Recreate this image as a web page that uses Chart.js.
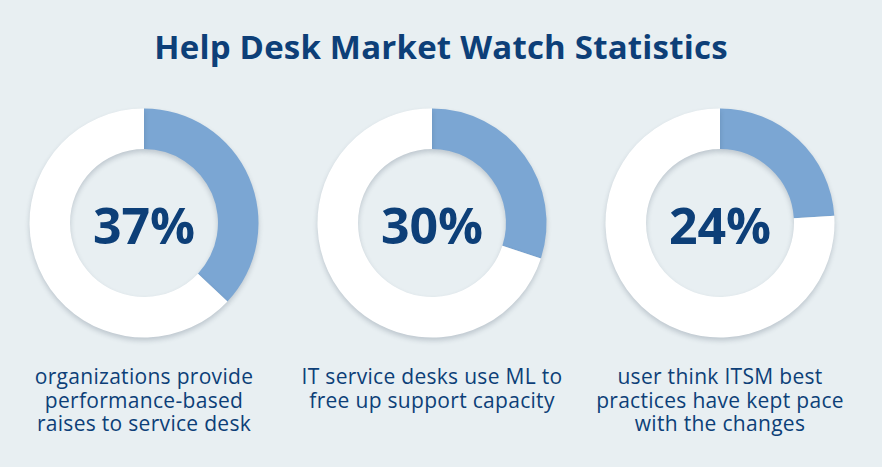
<!DOCTYPE html>
<html>
<head>
<meta charset="utf-8">
<script src="https://cdn.jsdelivr.net/npm/chart.js@4.4.0/dist/chart.umd.min.js"></script>
<style>
  html, body { margin: 0; padding: 0; }
  body {
    width: 882px; height: 467px; background: #e8eff2; position: relative; overflow: hidden;
    font-family: "Open Sans", sans-serif; color: #0d3f78;
  }
  #title {
    position: absolute; left: 0; width: 882px; top: 27px; text-align: center;
    font-size: 33px; line-height: 40px; font-weight: 700; letter-spacing: 0.2px;
  }
  .col { position: absolute; top: 0; width: 288px; height: 467px; }
  .col canvas { position: absolute; left: 14px; top: 93px; }
  .cap {
    position: absolute; left: 0; width: 288px; top: 365px; text-align: center;
    font-size: 21px; line-height: 23.5px; font-weight: 500; letter-spacing: 0.3px;
  }
</style>
</head>
<body>
<div id="title">Help Desk Market Watch Statistics</div>
<div id="cols"></div>
<script>
const values = [37, 30, 24];
const valueLabels = ['37%', '30%', '24%'];
const captions = [
  ['organizations provide', 'performance-based', 'raises to service desk'],
  ['IT service desks use ML to', 'free up support capacity'],
  ['user think ITSM best', 'practices have kept pace', 'with the changes']
];
const colLefts = [0, 288, 576];

const centerText = {
  id: 'centerText',
  beforeDatasetsDraw(chart) {
    const c = chart.ctx;
    c.save();
    c.shadowColor = 'rgba(40,60,80,0.22)';
    c.shadowBlur = 5;
    c.shadowOffsetY = 3;
  },
  afterDatasetsDraw(chart, args, opts) {
    const c = chart.ctx;
    c.restore();
    const arc = chart.getDatasetMeta(0).data[0];
    c.save();
    c.fillStyle = '#0d3f78';
    c.font = '700 50px "Open Sans", sans-serif';
    c.textAlign = 'center';
    c.textBaseline = 'middle';
    c.fillText(opts.text, arc.x, arc.y + 7);
    c.restore();
  }
};

const holder = document.getElementById('cols');
values.forEach((v, i) => {
  const col = document.createElement('div');
  col.className = 'col';
  col.style.left = colLefts[i] + 'px';
  const cv = document.createElement('canvas');
  cv.width = 260; cv.height = 260;
  cv.style.width = '260px'; cv.style.height = '260px';
  col.appendChild(cv);
  const cap = document.createElement('div');
  cap.className = 'cap';
  cap.innerHTML = captions[i].join('<br>');
  col.appendChild(cap);
  holder.appendChild(col);

  new Chart(cv, {
    type: 'doughnut',
    data: {
      labels: ['Yes', 'Other'],
      datasets: [{
        data: [v, 100 - v],
        backgroundColor: ['#7ba6d3', '#ffffff'],
        borderWidth: 0
      }]
    },
    options: {
      responsive: false,
      animation: false,
      radius: 114.5,
      cutout: 84,
      plugins: {
        legend: { display: false },
        tooltip: { enabled: false },
        centerText: { text: valueLabels[i] }
      }
    },
    plugins: [centerText]
  });
});
</script>
</body>
</html>
